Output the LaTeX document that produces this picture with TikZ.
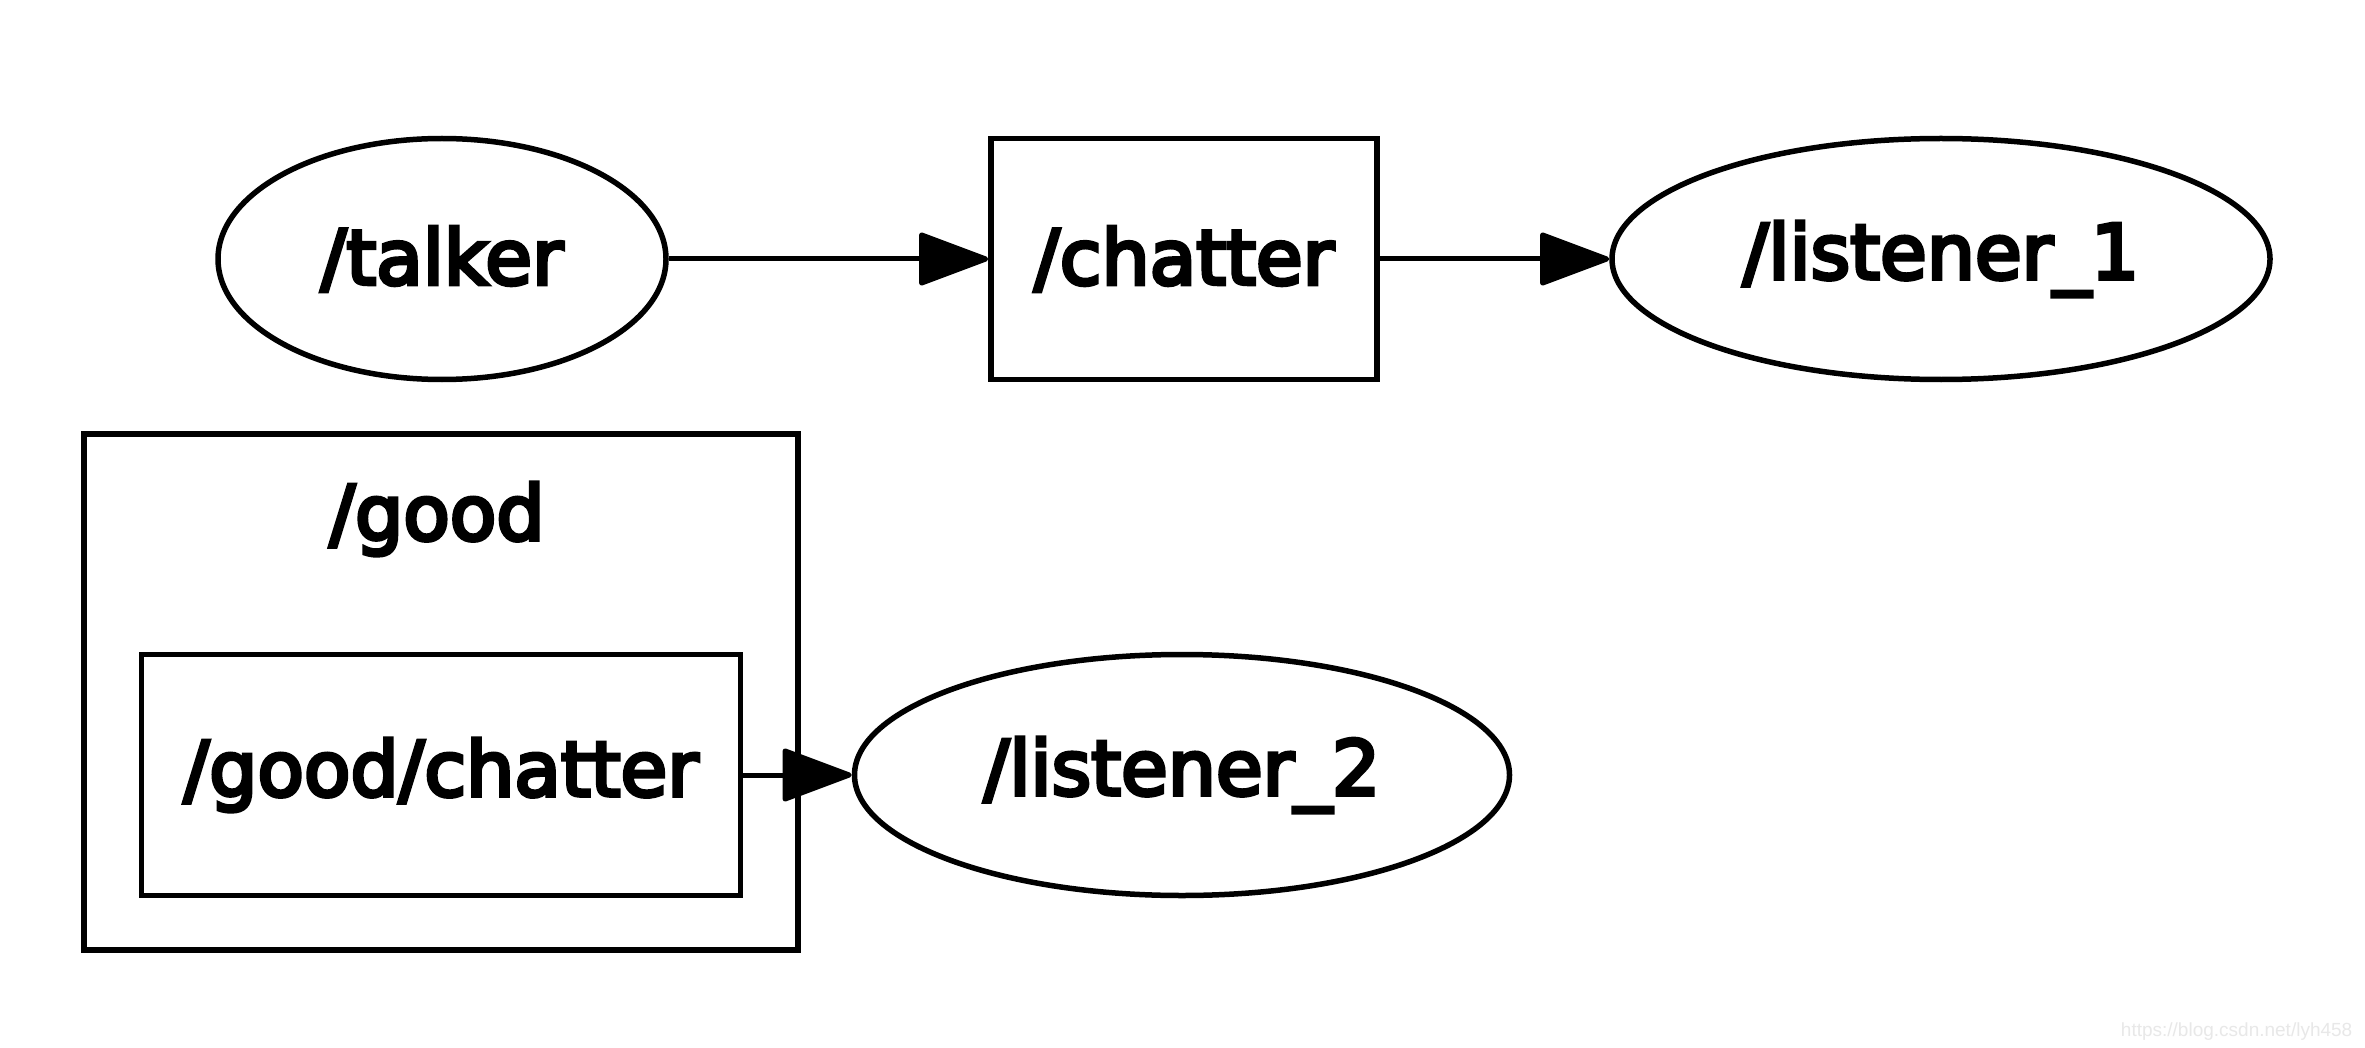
\documentclass[tikz,border=0pt]{standalone}
\usepackage{fontspec}
\setmainfont{DejaVu Sans}
\newfontfamily\heavyfont[FakeBold=5]{DejaVu Sans}
\newfontfamily\wmfont{Liberation Sans}
\usetikzlibrary{arrows.meta,shapes.geometric}
\begin{document}
\begin{tikzpicture}[x=1pt,y=-1pt,
  every node/.style={font=\heavyfont\fontsize{76}{80}\selectfont, inner sep=0pt, line width=5.5pt},
  topic/.style={draw, rectangle, minimum width=#1, minimum height=241pt},
  nodeell/.style={draw, ellipse, minimum width=#1, minimum height=241pt},
  conn/.style={line width=5pt, -{Triangle[length=74pt,width=54pt,round]}}]
\useasboundingbox (0,0) rectangle (2365,1048);
\fill[white] (0,0) rectangle (2365,1048);
% cluster
\node[draw, rectangle, minimum width=714pt, minimum height=516pt] (cluster) at (441,692) {};
\node (goodlbl) at (437,519) {/good};
\node[nodeell=448pt] (talker) at (442,259) {/talker};
\node[topic=386pt] (chatter) at (1184,259) {/chatter};
\node[nodeell=658pt] (listener1) at (1941,259) {/listener\_1};
\node[topic=599pt] (goodchatter) at (441,775) {/good/chatter};
\node[nodeell=655pt] (listener2) at (1182,775) {/listener\_2};
\draw[conn] (talker) -- (chatter);
\draw[conn] (chatter) -- (listener1);
\draw[conn] (goodchatter) -- (listener2);
\node[font=\wmfont\fontsize{19}{20}\selectfont, text=black!9, anchor=south east] (wm) at (2355,1043) {https://blog.csdn.net/lyh458};
\end{tikzpicture}
\end{document}
